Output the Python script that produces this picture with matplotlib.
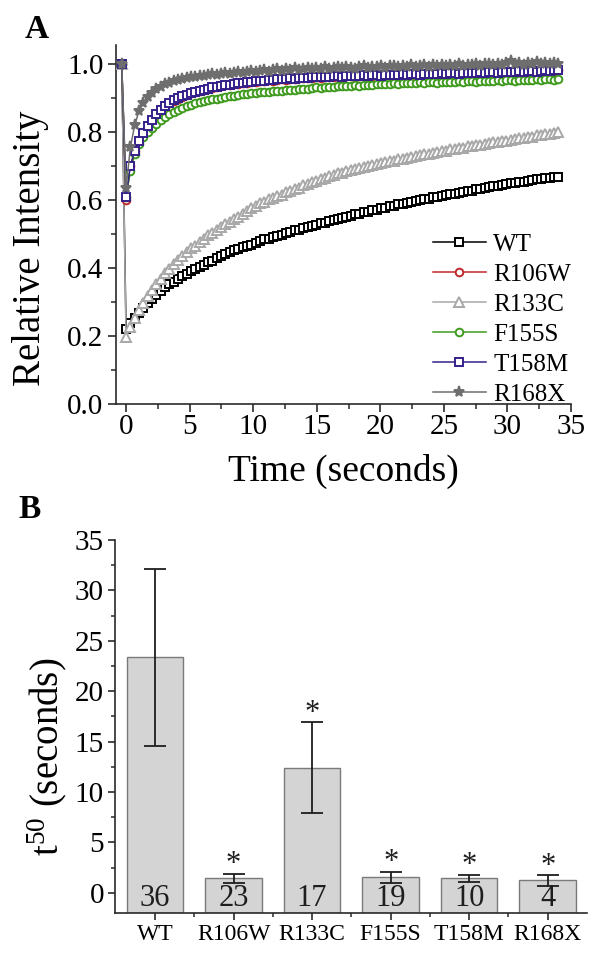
import numpy as np
import matplotlib
matplotlib.use('Agg')
import matplotlib.pyplot as plt
from matplotlib.ticker import MultipleLocator, FixedLocator

plt.rcParams['font.family'] = ['Liberation Serif', 'DejaVu Serif']
plt.rcParams['mathtext.fontset'] = 'custom'
plt.rcParams['mathtext.rm'] = 'Liberation Serif'
plt.rcParams['mathtext.it'] = 'Liberation Serif:italic'

# ---------------- Panel A data ----------------
series_names = ['WT', 'R106W', 'R133C', 'F155S', 'T158M', 'R168X']
frame_interval = 0.34
prebleach_time = -0.34
prebleach_value = 1.0
time_s = np.round(np.arange(101) * frame_interval, 2)

wt = [0.220, 0.238, 0.252, 0.268, 0.283, 0.296, 0.309, 0.322, 0.331, 0.343,
      0.352, 0.360, 0.368, 0.377, 0.383, 0.391, 0.396, 0.404, 0.409, 0.417,
      0.422, 0.430, 0.434, 0.441, 0.446, 0.452, 0.455, 0.461, 0.466, 0.469,
      0.475, 0.478, 0.484, 0.486, 0.491, 0.495, 0.497, 0.503, 0.505, 0.511,
      0.513, 0.518, 0.520, 0.525, 0.527, 0.531, 0.533, 0.538, 0.540, 0.545,
      0.547, 0.551, 0.553, 0.558, 0.559, 0.564, 0.566, 0.570, 0.572, 0.576,
      0.577, 0.582, 0.583, 0.587, 0.589, 0.592, 0.594, 0.598, 0.599, 0.603,
      0.604, 0.608, 0.609, 0.612, 0.614, 0.617, 0.619, 0.622, 0.623, 0.627,
      0.628, 0.631, 0.632, 0.636, 0.637, 0.640, 0.641, 0.645, 0.646, 0.649,
      0.650, 0.653, 0.654, 0.657, 0.658, 0.661, 0.662, 0.664, 0.665, 0.668,
      0.669]

r106w = [0.600, 0.699, 0.744, 0.774, 0.796, 0.817, 0.835, 0.851, 0.865, 0.876,
         0.885, 0.892, 0.898, 0.904, 0.909, 0.914, 0.917, 0.921, 0.924, 0.927,
         0.930, 0.932, 0.934, 0.937, 0.938, 0.940, 0.942, 0.943, 0.945, 0.946,
         0.948, 0.949, 0.950, 0.952, 0.951, 0.954, 0.955, 0.954, 0.957, 0.956,
         0.958, 0.959, 0.958, 0.960, 0.961, 0.960, 0.962, 0.961, 0.963, 0.964,
         0.962, 0.964, 0.965, 0.963, 0.965, 0.966, 0.964, 0.966, 0.967, 0.965,
         0.967, 0.968, 0.966, 0.968, 0.969, 0.967, 0.969, 0.970, 0.968, 0.970,
         0.971, 0.969, 0.971, 0.972, 0.970, 0.972, 0.973, 0.971, 0.973, 0.974,
         0.972, 0.974, 0.975, 0.973, 0.975, 0.976, 0.974, 0.976, 0.977, 0.975,
         0.977, 0.978, 0.976, 0.978, 0.979, 0.977, 0.979, 0.980, 0.978, 0.980,
         0.981]

r133c = [0.196, 0.226, 0.252, 0.276, 0.298, 0.318, 0.336, 0.354, 0.369, 0.385,
         0.398, 0.412, 0.423, 0.436, 0.446, 0.458, 0.466, 0.477, 0.485, 0.496,
         0.503, 0.513, 0.520, 0.530, 0.536, 0.545, 0.551, 0.560, 0.567, 0.577,
         0.583, 0.591, 0.595, 0.603, 0.606, 0.613, 0.616, 0.623, 0.626, 0.633,
         0.635, 0.643, 0.646, 0.653, 0.656, 0.663, 0.665, 0.671, 0.673, 0.679,
         0.680, 0.686, 0.687, 0.692, 0.693, 0.698, 0.699, 0.704, 0.705, 0.710,
         0.711, 0.715, 0.716, 0.720, 0.721, 0.725, 0.726, 0.730, 0.731, 0.735,
         0.735, 0.739, 0.740, 0.744, 0.745, 0.749, 0.750, 0.753, 0.754, 0.758,
         0.758, 0.762, 0.763, 0.766, 0.767, 0.770, 0.771, 0.774, 0.775, 0.778,
         0.779, 0.782, 0.783, 0.786, 0.786, 0.790, 0.790, 0.793, 0.794, 0.797,
         0.799]

f155s = [0.610, 0.685, 0.735, 0.765, 0.785, 0.800, 0.813, 0.825, 0.836, 0.845,
         0.853, 0.860, 0.866, 0.871, 0.876, 0.880, 0.884, 0.887, 0.890, 0.893,
         0.896, 0.898, 0.901, 0.903, 0.905, 0.907, 0.909, 0.911, 0.912, 0.914,
         0.916, 0.917, 0.919, 0.918, 0.921, 0.922, 0.921, 0.924, 0.925, 0.924,
         0.927, 0.928, 0.927, 0.930, 0.931, 0.930, 0.932, 0.933, 0.932, 0.934,
         0.935, 0.934, 0.936, 0.937, 0.936, 0.938, 0.939, 0.938, 0.940, 0.941,
         0.940, 0.942, 0.943, 0.942, 0.944, 0.945, 0.943, 0.945, 0.946, 0.944,
         0.946, 0.947, 0.945, 0.947, 0.948, 0.946, 0.948, 0.949, 0.947, 0.949,
         0.950, 0.948, 0.950, 0.951, 0.949, 0.951, 0.952, 0.950, 0.952, 0.953,
         0.951, 0.953, 0.954, 0.952, 0.954, 0.955, 0.953, 0.955, 0.956, 0.954,
         0.956]

t158m = [0.610, 0.700, 0.745, 0.775, 0.797, 0.818, 0.836, 0.852, 0.866, 0.877,
         0.886, 0.893, 0.899, 0.905, 0.910, 0.915, 0.918, 0.922, 0.925, 0.928,
         0.931, 0.933, 0.935, 0.938, 0.939, 0.941, 0.943, 0.944, 0.946, 0.947,
         0.949, 0.950, 0.951, 0.953, 0.952, 0.955, 0.956, 0.955, 0.958, 0.957,
         0.959, 0.960, 0.959, 0.961, 0.962, 0.961, 0.963, 0.962, 0.964, 0.965,
         0.963, 0.965, 0.966, 0.964, 0.966, 0.967, 0.965, 0.967, 0.968, 0.966,
         0.968, 0.969, 0.967, 0.969, 0.970, 0.968, 0.970, 0.971, 0.969, 0.971,
         0.972, 0.970, 0.972, 0.973, 0.971, 0.973, 0.974, 0.972, 0.974, 0.975,
         0.973, 0.975, 0.976, 0.974, 0.976, 0.977, 0.975, 0.977, 0.978, 0.976,
         0.978, 0.979, 0.977, 0.979, 0.980, 0.978, 0.980, 0.981, 0.979, 0.981,
         0.982]

r168x = [0.635, 0.755, 0.820, 0.862, 0.885, 0.902, 0.915, 0.926, 0.933, 0.940,
         0.944, 0.949, 0.952, 0.956, 0.958, 0.961, 0.963, 0.966, 0.964, 0.968,
         0.970, 0.967, 0.972, 0.973, 0.970, 0.975, 0.976, 0.973, 0.978, 0.979,
         0.976, 0.980, 0.982, 0.978, 0.983, 0.984, 0.980, 0.985, 0.983, 0.987,
         0.982, 0.986, 0.988, 0.984, 0.988, 0.986, 0.990, 0.985, 0.989, 0.991,
         0.987, 0.992, 0.989, 0.986, 0.991, 0.993, 0.988, 0.992, 0.990, 0.994,
         0.989, 0.993, 0.995, 0.990, 0.994, 0.992, 0.996, 0.991, 0.995, 0.997,
         0.992, 0.996, 0.994, 0.998, 0.993, 0.997, 0.995, 0.999, 0.994, 0.998,
         0.996, 1.000, 0.995, 0.999, 1.001, 0.996, 1.000, 0.997, 1.004, 1.008,
         0.999, 1.003, 0.998, 1.002, 0.999, 1.005, 1.000, 1.003, 0.999, 1.004,
         1.001]

# ---------------- Panel B data ----------------
mutants = ['WT', 'R106W', 'R133C', 'F155S', 'T158M', 'R168X']
t50_mean = [23.35, 1.45, 12.4, 1.55, 1.45, 1.23]
t50_err = [8.75, 0.45, 4.5, 0.55, 0.33, 0.53]
n_cells = ['36', '23', '17', '19', '10', '4']
significant = [False, True, True, True, True, True]

# ---------------- styles ----------------
styles = {
    'WT':    dict(color='#000000', marker='s', ms=5.5, z=2, filled=False),
    'R106W': dict(color='#c0282a', marker='o', ms=5.5, z=4, filled=False),
    'R133C': dict(color='#a8a8a8', marker='^', ms=6.5, z=3, filled=False),
    'F155S': dict(color='#3d9a1c', marker='o', ms=5.5, z=5, filled=False),
    'T158M': dict(color='#35208a', marker='s', ms=5.5, z=6, filled=False),
    'R168X': dict(color='#6e6e6e', marker='*', ms=8.0, z=7, filled=True),
}
data_map = dict(zip(series_names, [wt, r106w, r133c, f155s, t158m, r168x]))

W, H = 602, 966
fig = plt.figure(figsize=(W / 100, H / 100), dpi=100)


def rect(l, t, r, b):
    return [l / W, 1 - b / H, (r - l) / W, (b - t) / H]


axis_color = '#2a2a2a'

# ---------------- Panel A ----------------
axA = fig.add_axes(rect(116, 45, 571, 404))
for name in series_names:
    st = styles[name]
    xs = np.concatenate([[prebleach_time], time_s])
    ys = np.concatenate([[prebleach_value], data_map[name]])
    axA.plot(xs, ys, color=st['color'], lw=1.1, marker=st['marker'],
             ms=st['ms'], mfc=st['color'] if st['filled'] else 'white',
             mec=st['color'], mew=1.4, zorder=st['z'], label=name)

axA.set_xlim(-0.79, 35)
axA.set_ylim(0, 1.056)
axA.xaxis.set_major_locator(MultipleLocator(5))
axA.xaxis.set_minor_locator(MultipleLocator(2.5))
axA.yaxis.set_major_locator(MultipleLocator(0.2))
axA.yaxis.set_minor_locator(MultipleLocator(0.1))
axA.yaxis.set_major_formatter(matplotlib.ticker.FormatStrFormatter('%.1f'))
for s in ['top', 'right']:
    axA.spines[s].set_visible(False)
for s in ['left', 'bottom']:
    axA.spines[s].set_color(axis_color)
    axA.spines[s].set_linewidth(1.2)
axA.tick_params(which='major', direction='out', length=6, width=1.2,
                color=axis_color, labelsize=21)
axA.tick_params(which='minor', direction='out', length=3.5, width=1.1,
                color=axis_color)
axA.tick_params(axis='x', which='major', pad=1)
axA.tick_params(axis='y', which='major', pad=3)
axA.set_xlabel('Time (seconds)', fontsize=27, labelpad=10)
axA.set_ylabel('Relative Intensity', fontsize=28)
axA.yaxis.set_label_coords(-0.148, 0.435)

leg = axA.legend(loc='upper left', bbox_to_anchor=(0.697, 0.475),
                 frameon=False, fontsize=18, numpoints=1,
                 handlelength=2.1, handletextpad=0.3, labelspacing=0.3,
                 borderpad=0, borderaxespad=0)

# ---------------- Panel B ----------------
axB = fig.add_axes(rect(115, 540, 587, 913))
ymin_b = -2.0
xpos = np.arange(len(mutants))
axB.bar(xpos, np.array(t50_mean) - ymin_b, bottom=ymin_b, width=0.72,
        color='#d4d4d4', edgecolor='#7a7a7a', linewidth=1.0, zorder=2)
axB.errorbar(xpos, t50_mean, yerr=t50_err, fmt='none', ecolor='#1e1e1e',
             elinewidth=1.3, capsize=8, capthick=1.3, zorder=3)
for i in range(len(mutants)):
    axB.text(xpos[i], -0.6, n_cells[i], ha='center', va='center',
             fontsize=22, color='#1e1e1e', zorder=4)
    if significant[i]:
        axB.text(xpos[i], t50_mean[i] + t50_err[i] + 0.9, '*', ha='center',
                 va='center', fontsize=22, color='#1e1e1e', zorder=4)

axB.set_xlim(-0.51, 5.5)
axB.set_ylim(ymin_b, 35)
axB.xaxis.set_major_locator(FixedLocator(xpos))
axB.xaxis.set_minor_locator(FixedLocator(xpos[:-1] + 0.5))
axB.set_xticklabels(mutants)
axB.yaxis.set_major_locator(MultipleLocator(5))
axB.yaxis.set_minor_locator(MultipleLocator(2.5))
for s in ['top', 'right']:
    axB.spines[s].set_visible(False)
for s in ['left', 'bottom']:
    axB.spines[s].set_color(axis_color)
    axB.spines[s].set_linewidth(1.2)
axB.tick_params(which='major', direction='out', length=5, width=1.2,
                color=axis_color)
axB.tick_params(which='minor', direction='out', length=3, width=1.1,
                color=axis_color)
axB.tick_params(axis='y', which='major', labelsize=21, pad=3)
axB.tick_params(axis='x', which='major', labelsize=17, pad=3)
axB.set_ylabel(r't$^{\mathrm{50}}$ (seconds)', fontsize=28)
axB.yaxis.set_label_coords(-0.098, 0.418)

# ---------------- panel letters ----------------
fig.text(25 / W, 1 - 38 / H, 'A', fontsize=24, fontweight='bold',
         ha='left', va='baseline')
fig.text(18 / W, 1 - 518 / H, 'B', fontsize=24, fontweight='bold',
         ha='left', va='baseline')

fig.savefig('out.png', dpi=100)
